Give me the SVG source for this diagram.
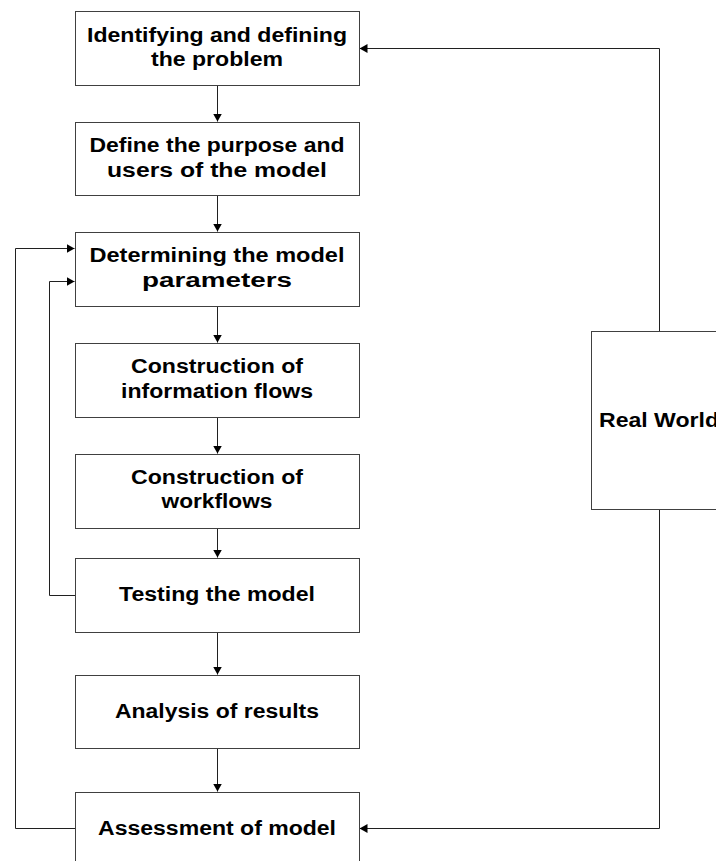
<svg xmlns="http://www.w3.org/2000/svg" width="716" height="861" viewBox="0 0 716 861">
<style>
.box{fill:#fff;stroke:#404040;stroke-width:1}
.lbl{font-family:"Liberation Sans",Arial,sans-serif;font-weight:bold;font-size:19.5px;fill:#000;text-anchor:middle}
.con{fill:none;stroke:#202020;stroke-width:1}
</style>
<defs>
<marker id="arr" viewBox="0 0 8 9" refX="8" refY="4.5" markerWidth="8" markerHeight="9" markerUnits="userSpaceOnUse" orient="auto">
<path d="M0,0 L8,4.5 L0,9 z" fill="#000"/>
</marker>
</defs>
<rect width="716" height="861" fill="#fff"/>
<g id="connectors">
<path class="con" d="M217.5,85.5 V121.5" marker-end="url(#arr)"/>
<path class="con" d="M217.5,195.5 V231.5" marker-end="url(#arr)"/>
<path class="con" d="M217.5,306.5 V342.5" marker-end="url(#arr)"/>
<path class="con" d="M217.5,417.5 V453.5" marker-end="url(#arr)"/>
<path class="con" d="M217.5,528.5 V557.5" marker-end="url(#arr)"/>
<path class="con" d="M217.5,632.5 V674.5" marker-end="url(#arr)"/>
<path class="con" d="M217.5,748.5 V791.5" marker-end="url(#arr)"/>
<path class="con" d="M75.5,595.5 H49.5 V281.5 H74.5" marker-end="url(#arr)"/>
<path class="con" d="M75.5,828.5 H15.5 V248.5 H74.5" marker-end="url(#arr)"/>
<path class="con" d="M659.5,331.5 V48.5 H359.5" marker-end="url(#arr)"/>
<path class="con" d="M659.5,509.5 V828.5 H359.5" marker-end="url(#arr)"/>
</g>
<g id="n1">
<rect class="box" x="75.5" y="11.5" width="284" height="74"/>
<text class="lbl" x="217" y="42" textLength="260" lengthAdjust="spacingAndGlyphs">Identifying and defining</text>
<text class="lbl" x="217" y="66" textLength="132" lengthAdjust="spacingAndGlyphs">the problem</text>
</g>
<g id="n2">
<rect class="box" x="75.5" y="122.5" width="284" height="73"/>
<text class="lbl" x="217" y="152" textLength="255" lengthAdjust="spacingAndGlyphs">Define the purpose and</text>
<text class="lbl" x="217" y="177" textLength="220" lengthAdjust="spacingAndGlyphs">users of the model</text>
</g>
<g id="n3">
<rect class="box" x="75.5" y="232.5" width="284" height="74"/>
<text class="lbl" x="217" y="262" textLength="255" lengthAdjust="spacingAndGlyphs">Determining the model</text>
<text class="lbl" x="217" y="287" textLength="150" lengthAdjust="spacingAndGlyphs">parameters</text>
</g>
<g id="n4">
<rect class="box" x="75.5" y="343.5" width="284" height="74"/>
<text class="lbl" x="217" y="373" textLength="172" lengthAdjust="spacingAndGlyphs">Construction of</text>
<text class="lbl" x="217" y="398" textLength="192" lengthAdjust="spacingAndGlyphs">information flows</text>
</g>
<g id="n5">
<rect class="box" x="75.5" y="454.5" width="284" height="74"/>
<text class="lbl" x="217" y="484" textLength="172" lengthAdjust="spacingAndGlyphs">Construction of</text>
<text class="lbl" x="217" y="508" textLength="111" lengthAdjust="spacingAndGlyphs">workflows</text>
</g>
<g id="n6">
<rect class="box" x="75.5" y="558.5" width="284" height="74"/>
<text class="lbl" x="217" y="601" textLength="196" lengthAdjust="spacingAndGlyphs">Testing the model</text>
</g>
<g id="n7">
<rect class="box" x="75.5" y="675.5" width="284" height="73"/>
<text class="lbl" x="217" y="718" textLength="204" lengthAdjust="spacingAndGlyphs">Analysis of results</text>
</g>
<g id="n8">
<rect class="box" x="75.5" y="792.5" width="284" height="74"/>
<text class="lbl" x="217" y="835" textLength="238" lengthAdjust="spacingAndGlyphs">Assessment of model</text>
</g>
<g id="n9">
<rect class="box" x="591.5" y="331.5" width="160" height="178"/>
<text class="lbl" x="599" y="427" style="text-anchor:start" textLength="120" lengthAdjust="spacingAndGlyphs">Real World</text>
</g>
</svg>
